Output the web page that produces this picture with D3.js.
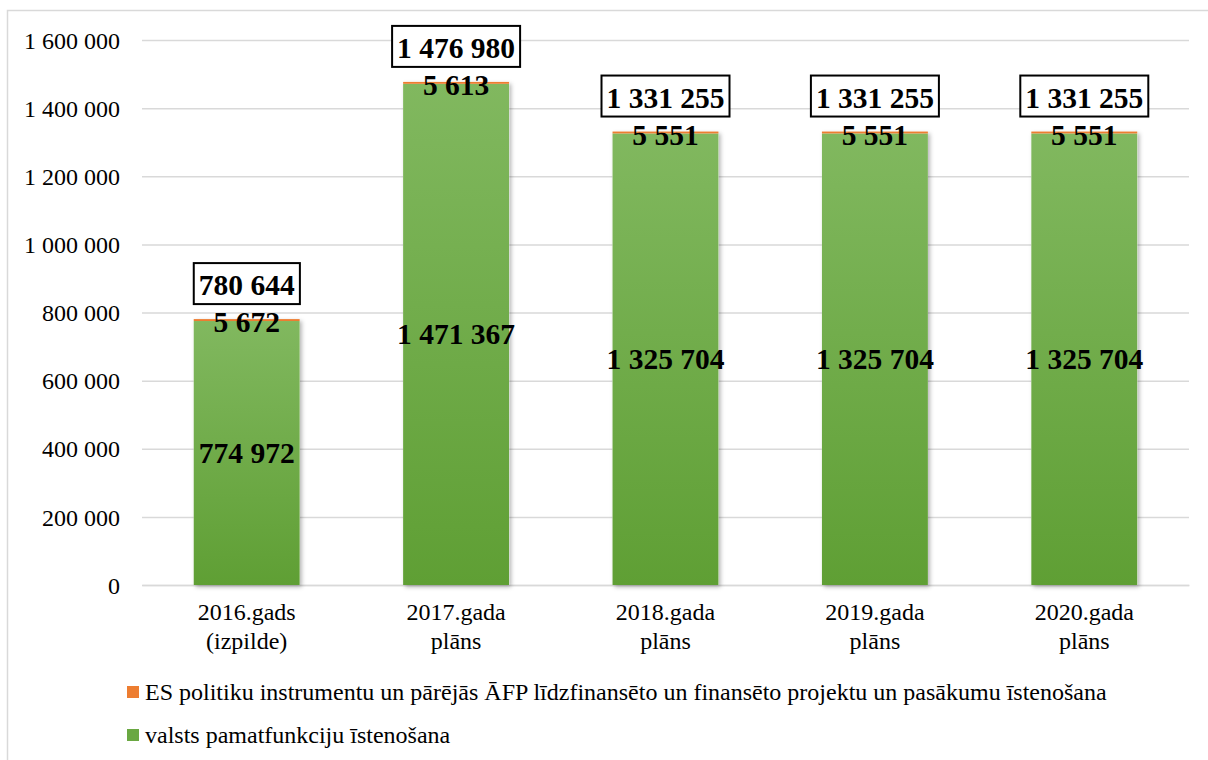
<!DOCTYPE html>
<html>
<head>
<meta charset="utf-8">
<script src="https://cdn.jsdelivr.net/npm/d3@7/dist/d3.min.js"></script>
<style>
  body { margin: 0; background: #fff; }
  svg { display: block; }
  svg text { font-family: 'Liberation Serif', 'Times New Roman', 'DejaVu Serif', serif; }
</style>
</head>
<body>
<svg id="chart" width="1208" height="760"></svg>
<script>
// chart values
const years = ['2016.gads|(izpilde)', '2017.gada|plāns', '2018.gada|plāns', '2019.gada|plāns', '2020.gada|plāns'];
const baseFunc = [774972, 1471367, 1325704, 1325704, 1325704];
const euProj = [5672, 5613, 5551, 5551, 5551];
const totals = [780644, 1476980, 1331255, 1331255, 1331255];
const yTicks = [0, 200000, 400000, 600000, 800000, 1000000, 1200000, 1400000, 1600000];
const seriesNames = [
  'ES politiku instrumentu un pārējās ĀFP līdzfinansēto un finansēto projektu un pasākumu īstenošana',
  'valsts pamatfunkciju īstenošana'
];

const svg = d3.select('#chart');
const fmt = (v) => d3.format(',')(v).replace(/,/g, ' ');

// outer frame
svg.append('rect')
  .attr('x', 7.5).attr('y', 10.5)
  .attr('width', 1220).attr('height', 780)
  .attr('fill', '#fff')
  .attr('stroke', '#d9d9d9')
  .attr('stroke-width', 1.5);

const defs = svg.append('defs');
const gGreen = defs.append('linearGradient').attr('id', 'gGreen')
  .attr('x1', 0).attr('y1', 0).attr('x2', 0).attr('y2', 1);
gGreen.append('stop').attr('offset', '0%').attr('stop-color', '#81b85f');
gGreen.append('stop').attr('offset', '100%').attr('stop-color', '#5f9f34');
const shadow = defs.append('filter').attr('id', 'shadow')
  .attr('x', '-10%').attr('y', '-10%').attr('width', '130%').attr('height', '130%');
shadow.append('feDropShadow')
  .attr('dx', 2).attr('dy', 2).attr('stdDeviation', 2)
  .attr('flood-color', '#000').attr('flood-opacity', 0.3);

const plotL = 142, plotR = 1189, plotT = 40, plotB = 585;

const x = d3.scaleBand()
  .domain(years)
  .range([plotL, plotR])
  .paddingInner(0.494)
  .paddingOuter(0.247);

const y = d3.scaleLinear()
  .domain([0, 1600000])
  .range([plotB, plotT]);

// grid + y axis labels
const yAxis = svg.append('g')
  .attr('transform', `translate(${plotL},0)`)
  .call(d3.axisLeft(y).tickValues(yTicks).tickSize(-(plotR - plotL)).tickPadding(22).tickFormat(fmt));
yAxis.select('.domain').remove();
yAxis.attr('font-family', null).attr('font-size', 24);
yAxis.selectAll('.tick line').attr('stroke', '#d9d9d9').attr('stroke-width', 1.5);
yAxis.selectAll('.tick text').attr('fill', '#000').attr('dy', '0.34em');

// x axis labels (two lines)
const xAxis = svg.append('g')
  .attr('transform', `translate(0,${plotB})`)
  .call(d3.axisBottom(x).tickSize(0).tickPadding(0).tickFormat(''));
xAxis.attr('font-family', null);
xAxis.select('.domain').attr('stroke', '#d9d9d9').attr('stroke-width', 1.5);
xAxis.selectAll('.tick').each(function (d) {
  const parts = d.split('|');
  const t = d3.select(this).append('text')
    .attr('fill', '#000')
    .attr('font-size', 24)
    .attr('text-anchor', 'middle');
  parts.forEach((p, i) => {
    t.append('tspan').attr('x', 0).attr('y', 35 + i * 29).text(p);
  });
});

// stacked bars
const bars = svg.append('g');
years.forEach((yr, i) => {
  const bx = x(yr), bw = x.bandwidth();
  bars.append('rect')
    .attr('x', bx).attr('width', bw)
    .attr('y', y(baseFunc[i] + euProj[i]))
    .attr('height', y(0) - y(baseFunc[i] + euProj[i]))
    .attr('fill', '#fff')
    .attr('filter', 'url(#shadow)');
  bars.append('rect')
    .attr('x', bx).attr('width', bw)
    .attr('y', y(baseFunc[i]))
    .attr('height', y(0) - y(baseFunc[i]))
    .attr('fill', 'url(#gGreen)');
  bars.append('rect')
    .attr('x', bx).attr('width', bw)
    .attr('y', y(baseFunc[i] + euProj[i]))
    .attr('height', y(baseFunc[i]) - y(baseFunc[i] + euProj[i]))
    .attr('fill', '#ed7d31');
});

// labels
const labels = svg.append('g')
  .attr('font-weight', 'bold')
  .attr('font-size', 29.5)
  .attr('text-anchor', 'middle')
  .attr('fill', '#000');
years.forEach((yr, i) => {
  const cx = x(yr) + x.bandwidth() / 2;
  const topY = y(totals[i]);
  // green segment value
  labels.append('text')
    .attr('x', cx)
    .attr('y', (y(baseFunc[i]) + y(0)) / 2 + 10)
    .text(fmt(baseFunc[i]));
  // orange segment value
  labels.append('text')
    .attr('x', cx)
    .attr('y', topY + 13)
    .text(fmt(euProj[i]));
  // total in a box
  const tt = labels.append('text')
    .attr('x', cx)
    .attr('y', topY - 24)
    .text(fmt(totals[i]));
  const bb = tt.node().getBBox();
  labels.insert('rect', 'text')
    .attr('x', bb.x - 5).attr('y', topY - 56)
    .attr('width', bb.width + 10).attr('height', 41)
    .attr('fill', '#fff')
    .attr('stroke', '#000')
    .attr('stroke-width', 2);
});

// legend
const legColors = ['#ed7d31', '#6aa842'];
const legend = svg.append('g')
  .attr('font-size', 24);
seriesNames.forEach((name, i) => {
  const ly = 692 + i * 43;
  legend.append('rect')
    .attr('x', 127).attr('y', ly - 6)
    .attr('width', 12).attr('height', 12)
    .attr('fill', legColors[i]);
  legend.append('text')
    .attr('x', 145).attr('y', ly + 8)
    .attr('fill', '#000')
    .text(name);
});
</script>
</body>
</html>
